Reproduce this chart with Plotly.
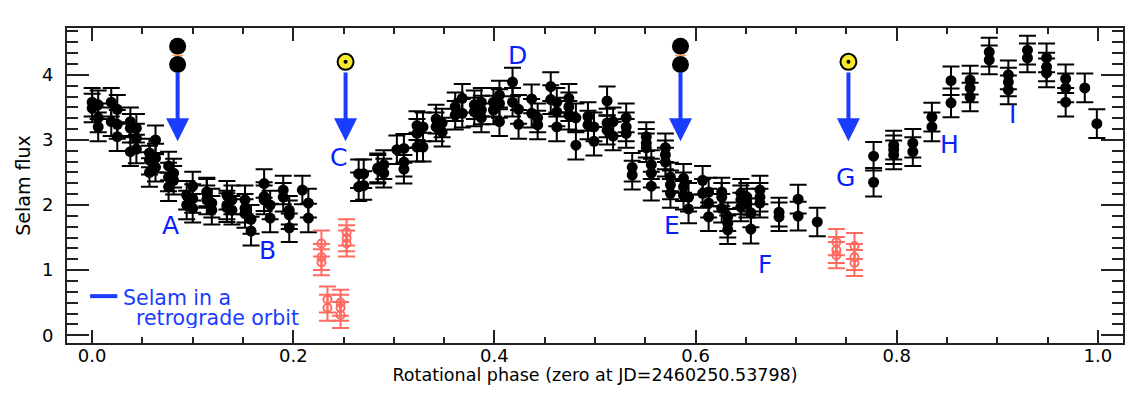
import plotly.graph_objects as go

phase = [0.000,0.000,0.006,0.006,0.006,0.019,0.019,0.025,0.025,0.025,0.038,0.038,0.038,0.044,0.044,0.044,
 0.063,0.057,0.057,0.057,0.063,0.063,0.076,0.076,0.081,0.081,0.076,
 0.100,0.094,0.094,0.100,0.100,0.114,0.114,0.114,0.119,0.119,
 0.134,0.134,0.139,0.139,0.134,0.152,0.152,0.152,0.158,0.158,
 0.171,0.171,0.171,0.177,0.177,0.190,0.190,0.196,0.196,0.196,0.209,0.215,0.215,
 0.265,0.270,0.265,0.270,0.284,0.290,0.290,0.284,0.303,0.310,0.310,0.310,
 0.323,0.329,0.323,0.329,0.323,0.342,0.348,0.342,0.348,0.361,0.368,0.361,0.368,
 0.380,0.387,0.380,0.387,0.387,0.399,0.405,0.399,0.405,0.405,
 0.418,0.418,0.424,0.424,0.437,0.437,0.443,0.443,0.456,0.456,0.462,0.462,0.462,
 0.474,0.474,0.481,0.481,0.474,0.493,0.493,0.499,0.499,0.512,0.512,0.512,0.518,0.518,
 0.531,0.531,0.531,0.537,0.537,0.551,0.551,0.551,0.556,0.556,0.556,0.570,0.570,0.570,
 0.575,0.575,0.575,0.588,0.588,0.593,0.593,0.588,0.607,0.607,0.613,0.613,0.613,
 0.626,0.626,0.626,0.632,0.632,0.632,0.645,0.645,0.645,0.651,0.651,0.655,0.655,
 0.664,0.664,0.664,0.683,0.683,0.702,0.702,0.721,
 0.777,0.777,0.797,0.797,0.797,0.816,0.816,0.835,0.835,0.854,0.854,0.873,0.873,0.873,
 0.892,0.892,0.911,0.911,0.911,0.930,0.930,0.949,0.949,0.949,0.968,0.968,0.968,0.987,0.999]
flux = [3.58,3.49,3.54,3.34,3.20,3.58,3.28,3.47,3.24,3.05,3.28,3.18,2.82,3.18,3.03,2.86,
 3.00,2.80,2.69,2.50,2.72,2.58,2.60,2.28,2.49,2.38,2.43,
 2.29,2.15,2.00,2.10,1.95,2.20,2.18,2.08,2.03,1.92,
 2.15,2.00,2.08,1.92,1.96,2.08,1.95,1.87,1.78,1.60,
 2.33,2.13,2.08,2.00,1.80,2.23,2.12,1.92,1.85,1.65,2.23,2.03,1.80,
 2.48,2.48,2.28,2.30,2.57,2.62,2.49,2.55,2.85,2.87,2.66,2.55,
 3.22,3.20,2.89,2.89,3.10,3.32,3.26,3.20,3.12,3.51,3.64,3.38,3.41,
 3.54,3.58,3.43,3.34,3.46,3.58,3.69,3.46,3.28,3.56,
 3.89,3.58,3.47,3.24,3.63,3.41,3.34,3.23,3.82,3.62,3.58,3.43,3.20,
 3.64,3.51,3.34,2.92,3.38,3.36,3.23,3.20,2.98,3.60,3.26,3.15,3.28,3.06,
 3.34,3.20,3.10,2.58,2.46,3.05,2.95,2.88,2.62,2.49,2.29,2.88,2.77,2.66,
 2.43,2.31,2.18,2.41,2.28,2.12,1.94,2.15,2.38,2.18,2.20,2.03,1.82,
 2.20,2.12,1.95,1.82,1.72,1.62,2.18,2.08,1.97,2.12,2.03,1.88,1.63,
 2.23,2.12,2.03,1.89,1.82,2.09,1.83,1.74,
 2.75,2.35,2.92,2.77,2.85,2.95,2.82,3.35,3.20,3.91,3.57,3.92,3.80,3.66,
 4.35,4.23,4.00,3.89,3.77,4.38,4.26,4.26,4.12,4.03,3.94,3.80,3.58,3.80,3.25]
black_err = 0.22

retro_phase = [0.228,0.228,0.228,0.253,0.253,0.253,0.234,0.234,0.247,0.247,0.247,0.740,0.740,0.740,0.758,0.758,0.758]
retro_flux = [1.41,1.20,1.12,1.58,1.49,1.41,0.55,0.42,0.50,0.42,0.31,1.43,1.31,1.23,1.37,1.20,1.11]
retro_err = 0.2

syzygy_phase = [0.085,0.585]
sun_phase = [0.252,0.752]
arrow_phases = [0.085,0.252,0.585,0.752]
letters = ["A","B","C","D","E","F","G","H","I"]
letter_x = [0.078,0.174,0.245,0.423,0.577,0.669,0.749,0.852,0.915]
letter_y = [1.69,1.30,2.73,4.30,1.69,1.09,2.42,2.93,3.39]

BLUE = "#1a3cff"
LETTER = "#0a1eff"
RED = "#ff6b60"
INK = "#222222"
fig = go.Figure()
fig.add_trace(go.Scatter(x=phase, y=flux, mode="markers",
    marker=dict(color="black", size=11),
    error_y=dict(type="constant", value=black_err, color="black", thickness=2, width=8.5)))
fig.add_trace(go.Scatter(x=retro_phase, y=retro_flux, mode="markers",
    marker=dict(color="rgba(0,0,0,0)", size=8, line=dict(color=RED, width=2)),
    error_y=dict(type="constant", value=retro_err, color=RED, thickness=2, width=8.5)))
for yv in (4.44, 4.16):
    fig.add_trace(go.Scatter(x=syzygy_phase, y=[yv]*2, mode="markers",
        marker=dict(color="black", size=17)))
fig.add_trace(go.Scatter(x=syzygy_phase, y=[4.3]*2, mode="markers",
    marker=dict(symbol="line-ew-open", size=8, line=dict(color="black", width=1.5))))
fig.add_trace(go.Scatter(x=sun_phase, y=[4.2]*2, mode="markers",
    marker=dict(color="#f7e92b", size=16, line=dict(color="black", width=2))))
fig.add_trace(go.Scatter(x=sun_phase, y=[4.2]*2, mode="markers",
    marker=dict(color="black", size=4)))
fig.add_trace(go.Scatter(x=[-0.002,0.025], y=[0.6,0.6], mode="lines",
    line=dict(color=BLUE, width=4)))

for p in arrow_phases:
    fig.add_annotation(x=p, y=2.98, ax=p, ay=4.06, xref="x", yref="y", axref="x", ayref="y",
        showarrow=True, text="", arrowhead=2, arrowwidth=4, arrowsize=1.15, arrowcolor=BLUE)
for t, xv, yv in zip(letters, letter_x, letter_y):
    fig.add_annotation(x=xv, y=yv, text=t, showarrow=False, font=dict(size=25, color=LETTER))
fig.add_annotation(x=0.030, y=0.57, text="Selam in a", showarrow=False, xanchor="left",
    height=20, borderpad=0, font=dict(size=20.5, color=BLUE))
fig.add_annotation(x=0.043, y=0.27, text="retrograde orbit", showarrow=False, xanchor="left",
    height=20, borderpad=0, font=dict(size=20.5, color=BLUE))

axis_common = dict(showgrid=False, zeroline=False, showline=True, linecolor=INK, linewidth=2,
    mirror="allticks", ticks="inside", tickcolor=INK, tickwidth=2, automargin=False,
    tickfont=dict(size=18, color="black"))
fig.update_xaxes(range=[-0.025,1.025], tickmode="array", tickvals=[0,0.2,0.4,0.6,0.8,1.0],
    ticktext=["0.0","0.2","0.4","0.6","0.8","1.0"], ticklen=13, ticklabelstandoff=-5,
    minor=dict(dtick=0.05, tick0=0, ticks="inside", ticklen=6, tickcolor=INK, tickwidth=2, showgrid=False),
    title=dict(text="Rotational phase (zero at JD=2460250.53798)", font=dict(size=17.5, color="black"), standoff=1),
    **axis_common)
fig.update_yaxes(range=[-0.12,4.72], tickmode="array", tickvals=[0,1,2,3,4], ticklen=22,
    minor=dict(dtick=1/6, tick0=0, ticks="inside", ticklen=11, tickcolor=INK, tickwidth=2, showgrid=False),
    ticklabelstandoff=8,
    title=dict(text="Selam flux", font=dict(size=19, color="black"), standoff=6),
    **axis_common)
fig.update_layout(width=1126, height=377, showlegend=False, plot_bgcolor="white", paper_bgcolor="white",
    margin=dict(l=59, r=11, t=20, b=42), font=dict(family="DejaVu Sans"))
fig.write_html("out.html")
